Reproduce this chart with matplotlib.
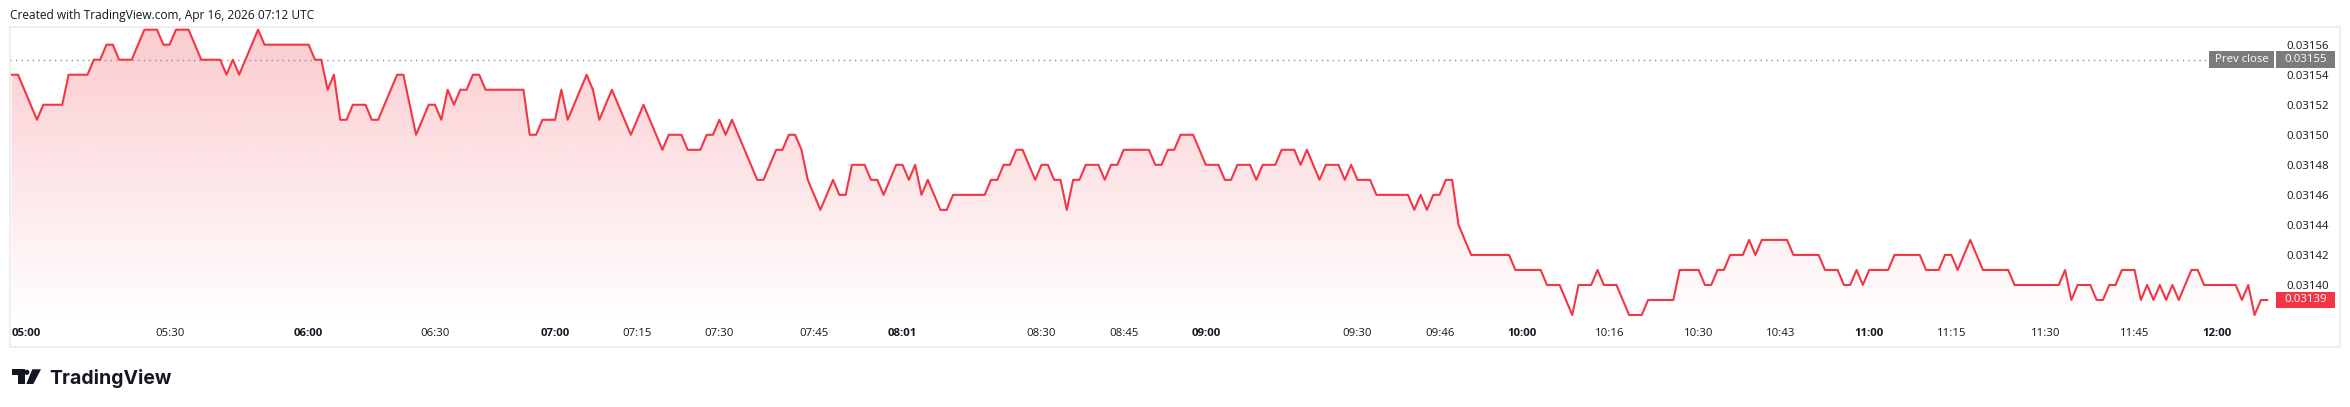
import numpy as np
import matplotlib
matplotlib.use("Agg")
import matplotlib.pyplot as plt
from matplotlib.patches import Rectangle, Polygon, Circle

# price per bar, in units of 0.00001 (one bar per traded minute)
prices_0 = [3154, 3154, 3153, 3152, 3151, 3152, 3152, 3152, 3152, 3154,
            3154, 3154, 3154, 3155, 3155, 3156, 3156, 3155, 3155, 3155,
            3156, 3157, 3157, 3157, 3156, 3156, 3157, 3157, 3157, 3156,
            3155, 3155, 3155, 3155, 3154, 3155, 3154, 3155, 3156, 3157,
            3156, 3156, 3156, 3156, 3156, 3156, 3156, 3156, 3155, 3155,
            3153, 3154, 3151, 3151, 3152, 3152, 3152, 3151, 3151, 3152]
prices_1 = [3153, 3154, 3154, 3152, 3150, 3151, 3152, 3152, 3151, 3153,
            3152, 3153, 3153, 3154, 3154, 3153, 3153, 3153, 3153, 3153,
            3153, 3153, 3150, 3150, 3151, 3151, 3151, 3153, 3151, 3152,
            3153, 3154, 3153, 3151, 3152, 3153, 3152, 3151, 3150, 3151,
            3152, 3151, 3150, 3149, 3150, 3150, 3150, 3149, 3149, 3149,
            3150, 3150, 3151, 3150, 3151, 3150, 3149, 3148, 3147, 3147]
prices_2 = [3148, 3149, 3149, 3150, 3150, 3149, 3147, 3146, 3145, 3146,
            3147, 3146, 3146, 3148, 3148, 3148, 3147, 3147, 3146, 3147,
            3148, 3148, 3147, 3148, 3146, 3147, 3146, 3145, 3145, 3146,
            3146, 3146, 3146, 3146, 3146, 3147, 3147, 3148, 3148, 3149,
            3149, 3148, 3147, 3148, 3148, 3147, 3147, 3145, 3147, 3147,
            3148, 3148, 3148, 3147, 3148, 3148, 3149, 3149, 3149, 3149]
prices_3 = [3149, 3148, 3148, 3149, 3149, 3150, 3150, 3150, 3149, 3148,
            3148, 3148, 3147, 3147, 3148, 3148, 3148, 3147, 3148, 3148,
            3148, 3149, 3149, 3149, 3148, 3149, 3148, 3147, 3148, 3148,
            3148, 3147, 3148, 3147, 3147, 3147, 3146, 3146, 3146, 3146,
            3146, 3146, 3145, 3146, 3145, 3146, 3146, 3147, 3147, 3144,
            3143, 3142, 3142, 3142, 3142, 3142, 3142, 3142, 3141, 3141]
prices_4 = [3141, 3141, 3141, 3140, 3140, 3140, 3139, 3138, 3140, 3140,
            3140, 3141, 3140, 3140, 3140, 3139, 3138, 3138, 3138, 3139,
            3139, 3139, 3139, 3139, 3141, 3141, 3141, 3141, 3140, 3140,
            3141, 3141, 3142, 3142, 3142, 3143, 3142, 3143, 3143, 3143,
            3143, 3143, 3142, 3142, 3142, 3142, 3142, 3141, 3141, 3141,
            3140, 3140, 3141, 3140, 3141, 3141, 3141, 3141, 3142, 3142]
prices_5 = [3142, 3142, 3142, 3141, 3141, 3141, 3142, 3142, 3141, 3142,
            3143, 3142, 3141, 3141, 3141, 3141, 3141, 3140, 3140, 3140,
            3140, 3140, 3140, 3140, 3140, 3141, 3139, 3140, 3140, 3140,
            3139, 3139, 3140, 3140, 3141, 3141, 3141, 3139, 3140, 3139,
            3140, 3139, 3140, 3139, 3140, 3141, 3141, 3140, 3140, 3140,
            3140, 3140, 3140, 3139, 3140, 3138, 3139, 3139]

prev_close = 3155
y_ticks = [3140, 3142, 3144, 3146, 3148, 3150, 3152, 3154, 3156]

# bar index where each time label sits
time_bars = [0, 25, 47, 67, 86, 99, 112, 127, 141, 163, 176, 189,
             213, 226, 239, 253, 267, 280, 294, 307, 322, 336, 349]
time_labels = ['05:00', '05:30', '06:00', '06:30', '07:00', '07:15', '07:30',
               '07:45', '08:01', '08:30', '08:45', '09:00', '09:30', '09:46',
               '10:00', '10:16', '10:30', '10:43', '11:00', '11:15', '11:30',
               '11:45', '12:00']
bold_labels = ['05:00', '06:00', '07:00', '08:01', '09:00', '10:00', '11:00', '12:00']

RED = '#f23645'
TXT = '#131722'
GREY_BOX = '#7b7b7b'
W, H = 2350, 407

plt.rcParams['font.family'] = ['Open Sans', 'DejaVu Sans']


def fx(px):
    return px / W


def fy(py):
    return 1 - py / H


prices = np.array(prices_0 + prices_1 + prices_2 + prices_3 + prices_4 + prices_5) * 1e-5
x = np.arange(len(prices))

fig = plt.figure(figsize=(W / 100, H / 100), dpi=100)
fig.patch.set_facecolor('white')

ax = fig.add_axes([fx(10), fy(320), fx(2280) - fx(10), fy(27) - fy(320)])
bar_px = 6.318
x0 = -(11.7 - 10) / bar_px
x1 = x0 + 2270 / bar_px
y_top = (3157 + (29.67 - 27) / 15.02) * 1e-5
y_bot = (3138 - (320 - 315) / 15.02) * 1e-5
ax.set_xlim(x0, x1)
ax.set_ylim(y_bot, y_top)
for s in ax.spines.values():
    s.set_visible(False)

# gradient area under the line
rgb = matplotlib.colors.to_rgb(RED)
grad = np.zeros((256, 1, 4))
grad[:, 0, :3] = rgb
grad[:, 0, 3] = np.linspace(0.0, 0.26, 256)
im = ax.imshow(grad, origin='lower', aspect='auto',
               extent=[x0, x1, y_bot, y_top], zorder=1, interpolation='bilinear')
verts = [(x[0], y_bot)] + list(zip(x, prices)) + [(x[-1], y_bot)]
clip = Polygon(verts, closed=True, facecolor='none', edgecolor='none', transform=ax.transData)
ax.add_patch(clip)
im.set_clip_path(clip)

ax.plot(x, prices, color=RED, lw=1.5, zorder=3)

# previous close dotted line
ax.axhline(prev_close * 1e-5, xmin=0, xmax=(2207 - 10) / 2270, color='#8a8e99',
           lw=1.0, linestyle=(0, (1, 3)), zorder=2)

# price scale
ax.yaxis.tick_right()
ax.set_yticks([v * 1e-5 for v in y_ticks])
ax.set_yticklabels([f'{v * 1e-5:.5f}' for v in y_ticks])
ax.tick_params(axis='y', length=0, pad=4.3, labelsize=8.2, labelcolor=TXT)

# time scale
ax.set_xticks(time_bars)
ax.set_xticklabels(time_labels)
ax.tick_params(axis='x', length=0, pad=5.6, labelsize=8.2, labelcolor=TXT)
for lab in ax.get_xticklabels():
    if lab.get_text() in bold_labels:
        lab.set_fontweight('bold')
ax.get_xticklabels()[0].set_horizontalalignment('left')


def price_box(level, x_left, x_right, color, text):
    yc = ax.transData.transform((0, level * 1e-5))[1]
    h = 16.5
    fig.add_artist(Rectangle((fx(x_left), yc / H - h / 2 / H), (x_right - x_left) / W, h / H,
                             transform=fig.transFigure, facecolor=color, edgecolor='none'))
    fig.text(fx((x_left + x_right) / 2), yc / H, text, color='white', fontsize=8.2,
             ha='center', va='center')


price_box(prev_close, 2209, 2274, GREY_BOX, 'Prev close')
price_box(prev_close, 2276, 2335, GREY_BOX, f'{prev_close * 1e-5:.5f}')
price_box(prices_5[-1], 2276, 2335, RED, f'{prices_5[-1] * 1e-5:.5f}')

# pane border
fig.add_artist(Rectangle((fx(10), fy(347)), fx(2340) - fx(10), fy(27) - fy(347),
                         transform=fig.transFigure, facecolor='none',
                         edgecolor='#eeeeee', lw=1.5))

# header
fig.text(fx(10), fy(15), 'Created with TradingView.com, Apr 16, 2026 07:12 UTC',
         ha='left', va='center', fontsize=8.6, color=TXT)

# TradingView logo
logo = '#131722'
fig.add_artist(Polygon([(fx(12.3), fy(369.3)), (fx(25), fy(369.3)), (fx(25), fy(384)),
                        (fx(18.3), fy(384)), (fx(18.3), fy(375)), (fx(12.3), fy(375))],
                       closed=True, transform=fig.transFigure, facecolor=logo, edgecolor='none'))
fig.add_artist(Polygon([(fx(32.3), fy(369.3)), (fx(41), fy(369.3)), (fx(33.3), fy(384)),
                        (fx(26.3), fy(384))],
                       closed=True, transform=fig.transFigure, facecolor=logo, edgecolor='none'))
fig.add_artist(Polygon([(fx(26.8 + 2.6 * np.cos(t)), fy(372.3 + 2.6 * np.sin(t)))
                        for t in np.linspace(0, 2 * np.pi, 30)],
                       closed=True, transform=fig.transFigure, facecolor=logo, edgecolor='none'))
fig.text(fx(49), fy(384.5), 'TradingView', ha='left', va='baseline', fontsize=14,
         fontweight='bold', color=logo, family=['Inter', 'DejaVu Sans'])

fig.savefig('out.png', dpi=100, facecolor='white')
